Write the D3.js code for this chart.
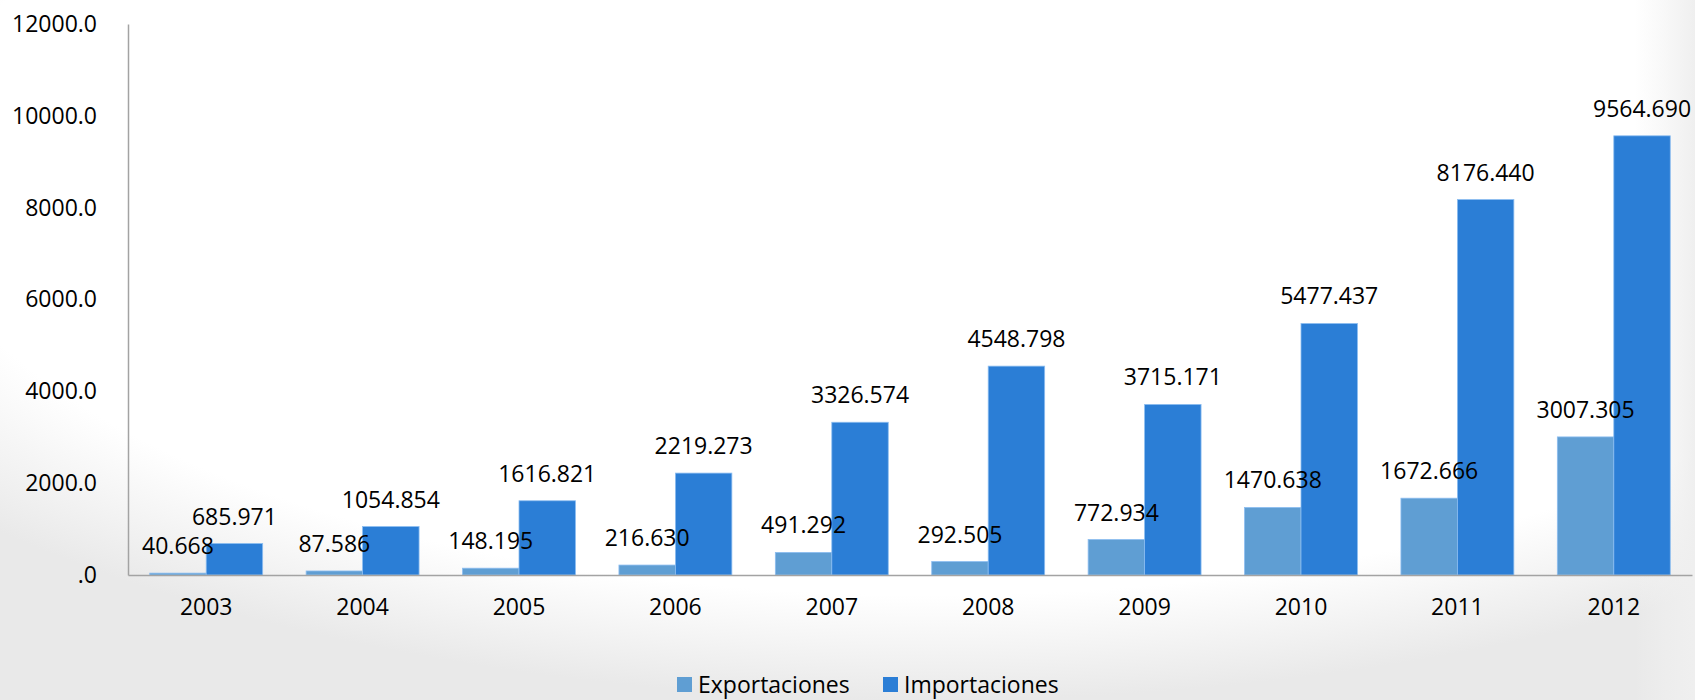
<!DOCTYPE html>
<html>
<head>
<meta charset="utf-8" />
<title>Exportaciones e Importaciones</title>
<script src="https://d3js.org/d3.v7.min.js"></script>
<style>
  body { margin: 0px; background: #fff; }
  svg text { font-family: "Open Sans", sans-serif; fill: #000; }
</style>
</head>
<body>
<svg id="chart"></svg>
<script>
  // data
  var years = ["2003", "2004", "2005", "2006", "2007", "2008", "2009", "2010", "2011", "2012"];
  var exportaciones = [40.668, 87.586, 148.195, 216.630, 491.292, 292.505, 772.934, 1470.638, 1672.666, 3007.305];
  var importaciones = [685.971, 1054.854, 1616.821, 2219.273, 3326.574, 4548.798, 3715.171, 5477.437, 8176.440, 9564.690];
  var seriesNames = ["Exportaciones", "Importaciones"];
  var yTicks = [0, 2000, 4000, 6000, 8000, 10000, 12000];

  var colors = {"Exportaciones": "#5f9ed3", "Importaciones": "#2b7ed6"};

  var width = 1695, height = 700;
  var margin = {top: 24, right: 3, bottom: 125, left: 128};

  var svg = d3.select("#chart").attr("width", width).attr("height", height);

  // slide background: white, greyish toward bottom-left corner and right edge
  var defs = svg.append("defs");
  var grad = defs.append("radialGradient")
      .attr("id", "bg").attr("cx", "55%").attr("cy", "25%").attr("r", "75%");
  grad.append("stop").attr("offset", "80%").attr("stop-color", "#ffffff");
  grad.append("stop").attr("offset", "100%").attr("stop-color", "#e9e9e9");
  var side = defs.append("linearGradient").attr("id", "side");
  side.append("stop").attr("offset", "0%").attr("stop-color", "#f2f2f2").attr("stop-opacity", 0);
  side.append("stop").attr("offset", "100%").attr("stop-color", "#efefef").attr("stop-opacity", 1);
  svg.append("rect").attr("width", width).attr("height", height).attr("fill", "url(#bg)");
  svg.append("rect").attr("x", width - 60).attr("width", 60).attr("height", height).attr("fill", "url(#side)");

  var x0 = d3.scaleBand()
      .domain(years)
      .range([margin.left, width - margin.right])
      .padding(0);

  var x1 = d3.scaleBand()
      .domain(seriesNames)
      .range([0, x0.bandwidth()])
      .paddingInner(0)
      .paddingOuter(0.385);

  var y = d3.scaleLinear()
      .domain([0, 12000])
      .range([height - margin.bottom, margin.top]);

  var rows = years.map(function(yr, i) {
    return {year: yr, values: [
      {key: "Exportaciones", value: exportaciones[i]},
      {key: "Importaciones", value: importaciones[i]}
    ]};
  });

  // y axis labels (no ticks)
  var yAxis = d3.axisLeft(y).tickValues(yTicks).tickSize(0).tickPadding(31)
      .tickFormat(function(d) { return d === 0 ? ".0" : d3.format(".1f")(d); });
  var gy = svg.append("g").attr("transform", "translate(" + margin.left + ",0)").call(yAxis);
  gy.select(".domain").attr("stroke", "#a3a3a3").attr("stroke-width", 1.5);
  gy.selectAll("text").style("font-size", "23px").attr("dy", "0.32em");

  // bars
  var groups = svg.append("g").selectAll("g").data(rows).join("g")
      .attr("transform", function(d) { return "translate(" + x0(d.year) + ",0)"; });

  groups.selectAll("rect").data(function(d) { return d.values; }).join("rect")
      .attr("x", function(d) { return x1(d.key); })
      .attr("width", x1.bandwidth())
      .attr("y", function(d) { return y(d.value); })
      .attr("height", function(d) { return y(0) - y(d.value); })
      .attr("fill", function(d) { return colors[d.key]; })
      .attr("stroke", "#8cbdf0")
      .attr("stroke-width", 0.8);

  // x axis
  var xAxis = d3.axisBottom(x0).tickSize(0).tickPadding(24);
  var gx = svg.append("g").attr("transform", "translate(0," + y(0) + ")").call(xAxis);
  gx.select(".domain").attr("stroke", "#a3a3a3").attr("stroke-width", 1.5);
  gx.selectAll("text").style("font-size", "23px");

  // value labels
  groups.selectAll("text.val").data(function(d) { return d.values; }).join("text")
      .attr("class", "val")
      .attr("x", function(d) { return x1(d.key) + x1.bandwidth() / 2; })
      .attr("y", function(d) { return y(d.value) - 19; })
      .attr("text-anchor", "middle")
      .style("font-size", "23px")
      .text(function(d) { return d3.format(".3f")(d.value); });

  // legend
  var legendX = [677, 883];
  var legend = svg.append("g").selectAll("g").data(seriesNames).join("g")
      .attr("transform", function(d, i) { return "translate(" + legendX[i] + ",677)"; });
  legend.append("rect").attr("width", 15).attr("height", 15)
      .attr("fill", function(d) { return colors[d]; });
  legend.append("text").attr("x", 21).attr("y", 8).attr("dy", "0.35em")
      .style("font-size", "23px")
      .text(function(d) { return d; });
</script>
</body>
</html>
